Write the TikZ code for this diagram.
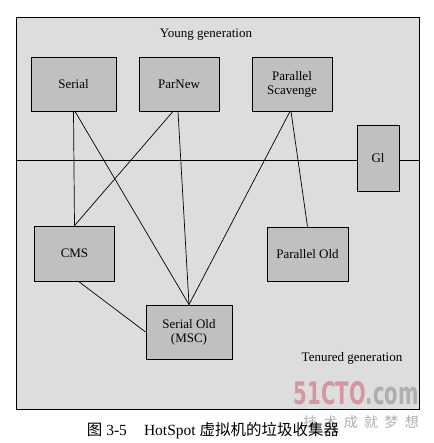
\documentclass[tikz,border=0pt]{standalone}
\usepackage{fontspec}
\usepackage{graphicx}
\setmainfont{Liberation Serif}
\newfontfamily\cjk{Noto Sans CJK SC}
\newfontfamily\wmfont{DejaVu Sans}
\usetikzlibrary{positioning}
\definecolor{outerfill}{RGB}{221,221,221}
\definecolor{boxfill}{RGB}{192,192,192}
\definecolor{wmred}{RGB}{214,150,160}
\definecolor{wmgray}{RGB}{175,175,175}
\begin{document}
\begin{tikzpicture}[x=1pt,y=-1pt,
  gc/.style={draw=black, line width=0.8pt, fill=boxfill, font=\fontsize{13}{14}\selectfont, align=center, inner sep=1pt},
  lbl/.style={font=\fontsize{13}{14}\selectfont},
  conn/.style={line width=0.7pt}]
\useasboundingbox (0,0) rectangle (433,443);
\fill[white] (0,0) rectangle (433,443);
\node[draw=black, line width=0.8pt, fill=outerfill, minimum width=403pt, minimum height=392pt, inner sep=0pt] (outer) at (217.5,213) {};
\coordinate (dl) at (16,160);
\coordinate (dr) at (419,160);
\draw[conn] (dl) -- (dr);
\node[lbl] (young) at (206,35) {Young generation};
\node[lbl] (tenured) at (352,358) {Tenured generation};
\node[gc, minimum width=85pt, minimum height=54pt] (serial) at (73.5,84) {Serial};
\node[gc, minimum width=80pt, minimum height=54pt] (parnew) at (179,84) {ParNew};
\node[gc, minimum width=80pt, minimum height=54pt] (ps) at (292,84) {Parallel\\Scavenge};
\node[gc, minimum width=42pt, minimum height=66pt] (g1) at (378,158) {Gl};
\node[gc, minimum width=80pt, minimum height=55pt] (cms) at (74.5,253.5) {CMS};
\node[gc, minimum width=81pt, minimum height=54pt] (po) at (307.5,254) {Parallel Old};
\node[gc, minimum width=86pt, minimum height=54pt] (so) at (189,332) {Serial Old\\(MSC)};
\draw[conn] (serial.south) -- (cms.north);
\draw[conn] ([xshift=1.5pt]serial.south) -- (so.north);
\draw[conn] ([xshift=-6pt]parnew.south) -- (cms.north);
\draw[conn] ([xshift=-1pt]parnew.south) -- (so.north);
\draw[conn] ([xshift=-2pt]ps.south) -- (so.north);
\draw[conn] ([xshift=-1pt]ps.south) -- (po.north);
\draw[conn] ([xshift=4pt]cms.south) -- (so.west);
\node[anchor=south east, inner sep=0pt] (wm) at (419,405) {\resizebox{125pt}{23pt}{\wmfont\bfseries\textcolor{wmred}{51CTO}\textcolor{wmgray}{.com}}};
\node[font=\fontsize{14}{14}\selectfont, text=wmgray, anchor=base east, inner sep=0pt] (wm2) at (419,427) {\cjk 技\hspace{0.45em}术\hspace{0.45em}成\hspace{0.45em}就\hspace{0.45em}梦\hspace{0.45em}想};
\node[font=\fontsize{15.5}{16}\selectfont, anchor=base] (cap) at (213,435) {{\cjk 图} 3-5\hspace{1.1em}HotSpot {\cjk 虚拟机的垃圾收集器}};
\end{tikzpicture}
\end{document}
